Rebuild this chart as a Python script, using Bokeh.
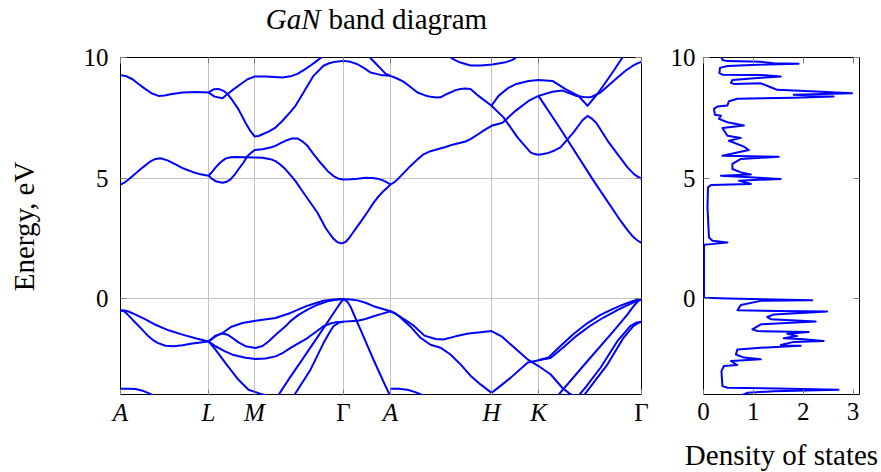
from bokeh.plotting import figure
from bokeh.models import LinearAxis, FixedTicker, Range1d
from bokeh.layouts import row, column
from bokeh.core.properties import value
from bokeh.embed import file_html
from bokeh.resources import INLINE

FONT = "Liberation Serif"

# ---- k-path ticks ----
K_TICKS = [0.0, 0.88, 1.34, 2.23, 2.70, 3.71, 4.18, 5.21]
K_LABELS = ["A", "L", "M", "Γ", "A", "H", "K", "Γ"]
E_TICKS = [0, 5, 10]
DOS_TICKS = [0, 1, 2, 3]

# ---- conduction bands (k, E in eV) ----
c0_k = [0.00, 0.04, 0.08, 0.15, 0.22, 0.30, 0.35, 0.40, 0.47, 0.55, 0.63, 0.72, 0.80, 0.88]
c0_e = [4.74, 4.82, 4.95, 5.20, 5.44, 5.70, 5.80, 5.83, 5.74, 5.57, 5.40, 5.26, 5.16, 5.10]

c1_k = [0.88, 0.92, 0.96, 1.02, 1.06, 1.10, 1.14, 1.18, 1.23, 1.27, 1.34, 1.42, 1.50, 1.55, 1.60, 1.65,
        1.71, 1.77, 1.82, 1.87, 1.93, 2.00, 2.07, 2.13, 2.18, 2.23, 2.30, 2.37, 2.45, 2.52, 2.57, 2.62, 2.66, 2.70]
c1_e = [5.10, 4.96, 4.86, 4.81, 4.85, 4.95, 5.14, 5.37, 5.65, 5.92, 6.17, 6.20, 6.27, 6.34, 6.45, 6.55,
        6.64, 6.65, 6.52, 6.34, 6.00, 5.64, 5.30, 5.09, 4.98, 4.95, 4.96, 4.98, 5.02, 5.01, 4.98, 4.92, 4.84, 4.74]

c2_k = [0.88, 0.92, 0.95, 1.00, 1.05, 1.10, 1.15, 1.25, 1.34, 1.42, 1.50, 1.55, 1.60, 1.65, 1.70, 1.75,
        1.83, 1.97, 2.05, 2.10, 2.13, 2.17, 2.21, 2.25, 2.28, 2.32, 2.36, 2.40, 2.47, 2.53, 2.58, 2.63, 2.67, 2.70]
c2_e = [5.10, 5.28, 5.44, 5.66, 5.81, 5.87, 5.88, 5.87, 5.86, 5.85, 5.79, 5.71, 5.56, 5.37, 5.13, 4.88,
        4.40, 3.57, 2.95, 2.65, 2.49, 2.35, 2.30, 2.36, 2.49, 2.72, 2.95, 3.18, 3.60, 3.98, 4.25, 4.47, 4.62, 4.74]

c3_k = [2.70, 2.74, 2.77, 2.84, 2.90, 2.97, 3.03, 3.10, 3.17, 3.25, 3.33, 3.40, 3.45, 3.50, 3.55, 3.63, 3.71,
        3.82, 3.95, 4.08, 4.18, 4.40, 4.73, 5.00, 5.07, 5.12, 5.17, 5.21]
c3_e = [4.74, 4.84, 4.95, 5.25, 5.51, 5.78, 5.99, 6.12, 6.20, 6.29, 6.40, 6.47, 6.52, 6.62, 6.75, 6.97, 7.17,
        7.30, 7.79, 8.20, 8.41, 7.04, 4.90, 3.24, 2.85, 2.60, 2.42, 2.32]

c4_k = [2.70, 2.76, 2.83, 2.90, 2.97, 3.04, 3.10, 3.16, 3.20, 3.27, 3.34, 3.40, 3.45, 3.50, 3.58, 3.71,
        3.83, 3.97, 4.10, 4.14, 4.18, 4.23, 4.28, 4.34, 4.40, 4.53, 4.62, 4.67, 4.71, 4.76, 4.87, 4.97,
        5.07, 5.14, 5.21]
c4_e = [9.24, 9.14, 9.00, 8.78, 8.55, 8.44, 8.37, 8.34, 8.35, 8.50, 8.63, 8.70, 8.72, 8.70, 8.41, 8.00,
        7.52, 6.69, 6.07, 6.00, 5.97, 6.00, 6.05, 6.15, 6.28, 6.90, 7.40, 7.58, 7.48, 7.28, 6.56, 6.00,
        5.45, 5.15, 4.97]

c5_k = [0.88, 0.93, 0.98, 1.03, 1.07, 1.12, 1.18, 1.25, 1.30, 1.34, 1.38, 1.42, 1.48, 1.55, 1.62, 1.70,
        1.75, 1.83, 1.93, 2.03, 2.08, 2.13, 2.23, 2.30, 2.37, 2.44, 2.50, 2.60, 2.70]
c5_e = [8.55, 8.68, 8.70, 8.62, 8.49, 8.22, 7.85, 7.30, 6.95, 6.73, 6.75, 6.82, 6.93, 7.10, 7.38, 7.75,
        8.00, 8.55, 9.24, 9.66, 9.75, 9.81, 9.86, 9.82, 9.72, 9.55, 9.38, 9.28, 9.24]

c6_k = [0.88, 0.94, 1.02, 1.07, 1.13, 1.20, 1.27, 1.34, 1.45, 1.62, 1.70, 1.77, 1.84, 1.90, 1.96, 2.02]
c6_e = [8.55, 8.38, 8.31, 8.49, 8.68, 8.89, 9.10, 9.21, 9.21, 9.17, 9.22, 9.32, 9.50, 9.67, 9.85, 10.04]

c7_k = [0.00, 0.06, 0.12, 0.18, 0.25, 0.31, 0.38, 0.44, 0.50, 0.62, 0.75, 0.88]
c7_e = [9.27, 9.22, 9.10, 8.90, 8.69, 8.52, 8.41, 8.43, 8.48, 8.55, 8.57, 8.55]

c8_k = [2.49, 2.55, 2.60, 2.65, 2.70]
c8_e = [10.02, 9.76, 9.55, 9.33, 9.24]

c9_k = [3.29, 3.32, 3.35, 3.40, 3.50, 3.60, 3.72, 3.85, 3.92, 3.97]
c9_e = [10.03, 9.95, 9.88, 9.79, 9.67, 9.67, 9.71, 9.80, 9.90, 10.04]

c10_k = [3.71, 3.78, 3.87, 3.95, 4.08, 4.18, 4.32, 4.45, 4.58, 4.67, 4.78, 4.92, 5.02]
c10_e = [8.00, 8.41, 8.72, 8.89, 9.03, 9.07, 9.03, 8.69, 8.41, 8.00, 8.55, 9.38, 10.00]

c11_k = [4.18, 4.32, 4.42, 4.55, 4.63, 4.70, 4.80, 4.95, 5.05, 5.12, 5.17, 5.21]
c11_e = [8.41, 8.58, 8.63, 8.42, 8.36, 8.35, 8.55, 9.10, 9.45, 9.65, 9.76, 9.82]

# ---- valence bands ----
v1_k = [0.00, 0.04, 0.08, 0.15, 0.25, 0.35, 0.48, 0.62, 0.75, 0.88]
v1_e = [-0.47, -0.48, -0.52, -0.65, -0.85, -1.07, -1.30, -1.48, -1.63, -1.76]

v2_k = [0.00, 0.04, 0.08, 0.12, 0.20, 0.28, 0.33, 0.37, 0.45, 0.53, 0.62, 0.72, 0.88]
v2_e = [-0.47, -0.52, -0.68, -0.86, -1.20, -1.55, -1.72, -1.82, -1.94, -1.96, -1.92, -1.85, -1.76]

v3_k = [0.88, 0.95, 1.02, 1.11, 1.22, 1.35, 1.55, 1.70, 1.87, 2.03, 2.13, 2.23, 2.30, 2.37, 2.45, 2.53, 2.70]
v3_e = [-1.76, -1.55, -1.41, -1.15, -1.00, -0.90, -0.79, -0.58, -0.28, -0.07, -0.02, 0.00, -0.02, -0.06, -0.16, -0.30, -0.51]

v4_k = [0.88, 0.95, 1.02, 1.07, 1.12, 1.18, 1.25, 1.35, 1.42, 1.48, 1.56, 1.65, 1.70, 1.78, 1.87, 1.97, 2.07, 2.15, 2.23]
v4_e = [-1.76, -1.52, -1.43, -1.48, -1.62, -1.80, -1.96, -2.03, -1.95, -1.76, -1.45, -1.13, -0.92, -0.66, -0.44, -0.24, -0.10, -0.03, 0.00]

v5_k = [0.88, 0.95, 1.04, 1.12, 1.25, 1.35, 1.45, 1.55, 1.63, 1.70, 1.87, 2.03, 2.10, 2.15, 2.23, 2.37, 2.45, 2.53, 2.62, 2.70]
v5_e = [-1.76, -1.96, -2.16, -2.31, -2.44, -2.49, -2.47, -2.38, -2.22, -2.03, -1.62, -1.13, -1.02, -0.97, -0.94, -0.90, -0.83, -0.72, -0.61, -0.51]

v6_k = [0.88, 0.95, 1.05, 1.18, 1.28, 1.38, 1.47, 1.57, 1.70, 1.80, 1.97, 2.10, 2.18, 2.23]
v6_e = [-1.76, -2.10, -2.66, -3.35, -3.76, -3.90, -4.02, -4.04, -3.22, -2.62, -1.58, -0.78, -0.28, 0.00]

v7_k = [1.72, 1.90, 2.03, 2.10, 2.13, 2.18, 2.23]
v7_e = [-4.10, -2.93, -1.83, -1.32, -1.13, -0.99, -0.94]

v8_k = [2.23, 2.27, 2.30, 2.35, 2.40, 2.53, 2.64, 2.70]
v8_e = [0.00, -0.12, -0.32, -0.80, -1.27, -2.52, -3.52, -4.05]

v9_k = [2.70, 2.78, 2.87, 2.94, 3.00, 3.06]
v9_e = [-3.72, -3.72, -3.76, -3.85, -3.95, -4.05]

v10_k = [0.00, 0.08, 0.15, 0.22, 0.28, 0.35]
v10_e = [-3.72, -3.72, -3.73, -3.80, -3.90, -4.04]

v11_k = [2.70, 2.76, 2.83, 2.93, 3.04, 3.15, 3.23, 3.35, 3.48, 3.60, 3.71, 3.81, 3.90, 4.07, 4.18,
         4.30, 4.42, 4.50, 4.57, 4.65, 4.80, 4.97, 5.10, 5.16, 5.21]
v11_e = [-0.51, -0.64, -0.82, -1.10, -1.52, -1.66, -1.68, -1.55, -1.43, -1.38, -1.33, -1.55, -1.88, -2.50, -2.78,
         -3.12, -3.69, -3.95, -4.06, -3.66, -2.85, -1.74, -1.12, -0.98, -0.95]

v12_k = [2.70, 2.75, 2.80, 2.90, 3.00, 3.10, 3.20, 3.30, 3.40, 3.50, 3.60, 3.71, 3.80, 3.90, 4.07, 4.18,
         4.28, 4.40, 4.53, 4.67, 4.80, 4.92, 5.00, 5.07, 5.14, 5.21]
v12_e = [-0.51, -0.60, -0.77, -1.15, -1.61, -1.90, -2.02, -2.30, -2.71, -3.18, -3.54, -3.89, -3.60, -3.27, -2.64, -2.54,
         -2.42, -1.95, -1.45, -1.00, -0.66, -0.42, -0.28, -0.17, -0.06, 0.00]

v13_k = [4.18, 4.30, 4.43, 4.56, 4.70, 4.83, 4.96, 5.04, 5.10, 5.16, 5.21]
v13_e = [-2.54, -2.45, -2.00, -1.53, -1.10, -0.77, -0.48, -0.32, -0.20, -0.08, 0.00]

v14_k = [4.35, 4.37, 4.67, 4.93, 5.07, 5.14, 5.18, 5.21]
v14_e = [-4.12, -4.02, -2.57, -1.33, -0.64, -0.25, -0.08, 0.00]

v15_k = [4.62, 4.63, 4.87, 5.03, 5.13, 5.18, 5.21]
v15_e = [-4.10, -4.02, -2.71, -1.61, -1.12, -0.99, -0.95]

# ---- density of states (energy, DOS) ----
DOS_E = [10.01, 9.90, 9.85, 9.82, 9.76, 9.74, 9.71, 9.65, 9.57, 9.35, 9.29, 9.28, 9.21, 9.16, 9.07,
         8.95, 8.90, 8.93, 8.77, 8.66, 8.60, 8.52, 8.46, 8.38, 8.33, 8.29, 8.19, 8.01, 7.97, 7.87,
         7.63, 7.59, 7.46, 7.32, 7.18, 7.08, 6.76, 6.67, 6.55, 6.31, 6.17, 5.93, 5.89, 5.80, 5.59,
         5.38, 5.24, 5.15, 5.10, 4.97, 4.90, 4.76, 4.72, 4.62, 3.79, 2.54, 2.41, 2.34, 2.27, 2.24,
         0.05, 0.02, -0.05, -0.08, -0.25, -0.47, -0.50, -0.52, -0.64, -0.75, -0.84, -0.94, -1.05,
         -1.26, -1.33, -1.37, -1.44, -1.54, -1.63, -1.67, -1.74, -1.78, -1.91, -1.94, -2.02, -2.09,
         -2.30, -2.43, -2.50, -2.57, -2.74, -2.78, -2.99, -3.61, -3.68, -3.71, -3.76, -3.82, -3.89,
         -3.98, -4.05]
DOS_V = [0.36, 0.38, 0.48, 1.15, 1.41, 1.91, 1.28, 0.48, 0.33, 0.32, 0.38, 1.15, 1.55, 1.15, 0.58,
         0.55, 0.62, 1.15, 1.35, 1.48, 2.15, 2.98, 1.81, 2.61, 1.81, 0.68, 0.51, 0.48, 0.28, 0.21,
         0.23, 0.35, 0.31, 0.48, 0.81, 0.38, 0.48, 0.75, 0.51, 0.81, 0.91, 0.38, 1.51, 0.75, 0.58,
         0.58, 0.75, 0.95, 0.35, 1.55, 0.71, 0.95, 0.15, 0.09, 0.08, 0.11, 0.18, 0.48, 0.15, 0.01,
         0.01, 0.48, 2.18, 1.15, 0.75, 0.68, 1.48, 2.48, 1.41, 1.28, 1.35, 2.25, 1.15,
         0.98, 1.08, 2.11, 1.68, 1.88, 1.61, 2.01, 2.41, 1.81, 1.55, 1.95, 1.15, 0.68,
         0.65, 0.81, 1.15, 0.55, 0.68, 0.41, 0.36, 0.38, 0.48, 1.48, 2.71, 1.41, 0.88,
         0.78, 0.75]

BANDS = [(c0_k, c0_e), (c1_k, c1_e), (c2_k, c2_e), (c3_k, c3_e), (c4_k, c4_e), (c5_k, c5_e),
         (c6_k, c6_e), (c7_k, c7_e), (c8_k, c8_e), (c9_k, c9_e), (c10_k, c10_e), (c11_k, c11_e),
         (v1_k, v1_e), (v2_k, v2_e), (v3_k, v3_e), (v4_k, v4_e), (v5_k, v5_e), (v6_k, v6_e),
         (v7_k, v7_e), (v8_k, v8_e), (v9_k, v9_e), (v10_k, v10_e), (v11_k, v11_e), (v12_k, v12_e),
         (v13_k, v13_e), (v14_k, v14_e), (v15_k, v15_e)]

BLUE = "#0000ff"
TICK_COLOR = "#808080"
GRID_COLOR = "#c4c4c4"
TICK_FS = "25px"
LABEL_FS = "29px"

# layout geometry (pixels)
TOTAL_W = 881
TITLE_H = 40
TOP_PAD = 17
FRAME_H = 338
STRIP_H = 77
P1_LEFT, P1_FRAME_W, P1_RIGHT = 120, 521, 10
P2_LEFT, P2_FRAME_W, P2_RIGHT = 52, 156, 22
K_RANGE = (0.0, 5.21)
DOS_RANGE = (0.0, 3.13)
E_RANGE = (-4, 10)


def style_axis(ax, show_labels=True, standoff=8):
    ax.axis_line_color = None
    ax.major_tick_in = 6
    ax.major_tick_out = 0
    ax.major_tick_line_color = TICK_COLOR
    ax.minor_tick_line_color = None
    ax.major_label_text_font = FONT
    ax.major_label_text_color = "black"
    if show_labels:
        ax.major_label_text_font_size = TICK_FS
        ax.major_label_standoff = standoff
    else:
        ax.major_label_overrides = {t: "" for t in ax.ticker.ticks}
        ax.major_label_text_font_size = "0px"
        ax.major_label_standoff = 0


def blank_figure(width, height, x_range, y_range):
    f = figure(width=width, height=height, x_range=x_range, y_range=y_range,
               x_axis_location=None, y_axis_location=None, min_border=0,
               output_backend="svg", toolbar_location=None)
    f.grid.visible = False
    f.outline_line_color = None
    return f


def add_box_axes(p, xticks, yticks):
    top = LinearAxis(ticker=FixedTicker(ticks=xticks))
    style_axis(top, show_labels=False)
    p.add_layout(top, "above")
    right = LinearAxis(ticker=FixedTicker(ticks=yticks))
    style_axis(right, show_labels=False)
    p.add_layout(right, "right")


# ---------------- title strip ----------------
tfig = blank_figure(TOTAL_W, TITLE_H, Range1d(0, TOTAL_W), Range1d(TITLE_H, 0))
tfig.text(x=[320], y=[18], text=["GaN"], text_font=value(FONT), text_font_size=LABEL_FS,
          text_font_style="italic", text_align="right", text_baseline="middle", text_color="black")
tfig.text(x=[328], y=[18], text=["band diagram"], text_font=value(FONT), text_font_size=LABEL_FS,
          text_font_style="normal", text_align="left", text_baseline="middle", text_color="black")

# ---------------- band diagram ----------------
p1 = figure(frame_width=P1_FRAME_W, frame_height=FRAME_H,
            x_range=Range1d(*K_RANGE), y_range=Range1d(*E_RANGE),
            min_border_left=P1_LEFT, min_border_right=P1_RIGHT, min_border_top=TOP_PAD, min_border_bottom=0,
            output_backend="svg", toolbar_location=None)
p1.outline_line_color = "black"
p1.xaxis.ticker = FixedTicker(ticks=K_TICKS)
p1.yaxis.ticker = FixedTicker(ticks=E_TICKS)
style_axis(p1.xaxis[0], show_labels=False)
style_axis(p1.yaxis[0], show_labels=True, standoff=12)
p1.yaxis.axis_label = "Energy, eV"
p1.yaxis.axis_label_text_font = FONT
p1.yaxis.axis_label_text_font_size = LABEL_FS
p1.yaxis.axis_label_text_font_style = "normal"
p1.yaxis.axis_label_text_color = "black"
p1.yaxis.axis_label_standoff = 41
add_box_axes(p1, K_TICKS, E_TICKS)
p1.xgrid.ticker = FixedTicker(ticks=K_TICKS)
p1.ygrid.ticker = FixedTicker(ticks=E_TICKS)
p1.xgrid.grid_line_color = GRID_COLOR
p1.ygrid.grid_line_color = GRID_COLOR

for kk, ee in BANDS:
    p1.line(kk, ee, line_color=BLUE, line_width=2, line_join="round")

# ---------------- density of states ----------------
p2 = figure(frame_width=P2_FRAME_W, frame_height=FRAME_H,
            x_range=Range1d(*DOS_RANGE), y_range=Range1d(*E_RANGE),
            min_border_left=P2_LEFT, min_border_right=P2_RIGHT, min_border_top=TOP_PAD, min_border_bottom=0,
            output_backend="svg", toolbar_location=None)
p2.outline_line_color = "black"
p2.xgrid.grid_line_color = None
p2.ygrid.grid_line_color = None
p2.xaxis.ticker = FixedTicker(ticks=DOS_TICKS)
p2.yaxis.ticker = FixedTicker(ticks=E_TICKS)
style_axis(p2.xaxis[0], show_labels=False)
style_axis(p2.yaxis[0], show_labels=True, standoff=8)
add_box_axes(p2, DOS_TICKS, E_TICKS)

p2.line(DOS_V, DOS_E, line_color=BLUE, line_width=2, line_join="round")

# ---------------- bottom strip: tick labels of both panels + x label ----------------
strip = blank_figure(TOTAL_W, STRIP_H, Range1d(0, TOTAL_W), Range1d(STRIP_H, 0))
p1_x0 = P1_LEFT
p2_x0 = P1_LEFT + P1_FRAME_W + P1_RIGHT + P2_LEFT
k_px = [p1_x0 + (k - K_RANGE[0]) / (K_RANGE[1] - K_RANGE[0]) * P1_FRAME_W for k in K_TICKS]
d_px = [p2_x0 + (d - DOS_RANGE[0]) / (DOS_RANGE[1] - DOS_RANGE[0]) * P2_FRAME_W for d in DOS_TICKS]

ital = [(x, l) for x, l in zip(k_px, K_LABELS) if l != "Γ"]
upr = [(x, l) for x, l in zip(k_px, K_LABELS) if l == "Γ"]
strip.text(x=[x for x, _ in ital], y=[17] * len(ital), text=[l for _, l in ital],
           text_font=value(FONT), text_font_size=TICK_FS, text_font_style="italic",
           text_align="center", text_baseline="middle", text_color="black")
strip.text(x=[x for x, _ in upr], y=[17] * len(upr), text=[l for _, l in upr],
           text_font=value(FONT), text_font_size=TICK_FS, text_font_style="normal",
           text_align="center", text_baseline="middle", text_color="black")
strip.text(x=d_px, y=[16] * len(d_px), text=[str(d) for d in DOS_TICKS],
           text_font=value(FONT), text_font_size=TICK_FS, text_font_style="normal",
           text_align="center", text_baseline="middle", text_color="black")
strip.text(x=[p2_x0 + P2_FRAME_W / 2], y=[59], text=["Density of states"],
           text_font=value(FONT), text_font_size=LABEL_FS, text_font_style="normal",
           text_align="center", text_baseline="middle", text_color="black")

layout = column(tfig, row(p1, p2), strip)
open("out.html", "w").write(file_html(layout, INLINE))
